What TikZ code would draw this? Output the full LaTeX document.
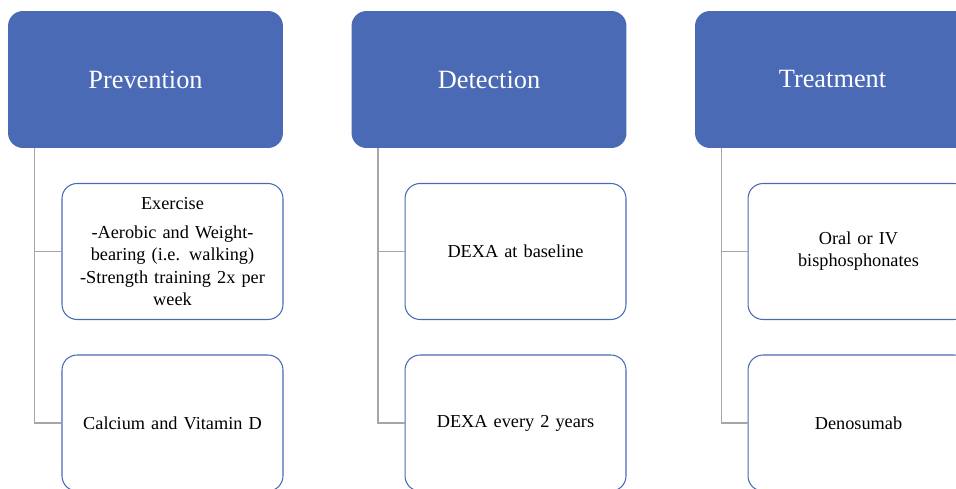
\documentclass[tikz,border=0pt]{standalone}
\usepackage{fontspec}
\setmainfont{Liberation Serif}
\definecolor{hdblue}{HTML}{4A6AB6}
\definecolor{lkgray}{HTML}{A6A6A6}

\begin{document}
\begin{tikzpicture}[x=0.02cm, y=-0.02cm,
    head/.style={rectangle, rounded corners=0.3cm, fill=hdblue, text=white,
      minimum width=5.5cm, minimum height=2.74cm, font=\fontsize{15}{18}\selectfont},
    item/.style={rectangle, rounded corners=0.3cm, draw=hdblue, line width=0.6pt, fill=white,
      minimum width=4.42cm, minimum height=2.72cm, align=center, text width=4.1cm,
      font=\fontsize{10.4}{12.6}\selectfont},
    link/.style={draw=lkgray, line width=0.8pt}
    ]
    \useasboundingbox (0,0) rectangle (956,489);

    % column heads
    \node[head] (prev) at (145.5,79.5) {Prevention};
    \node[head] (dete) at (489,79.5) {Detection};
    \node[head] (treat) at (832.5,79.5) {Treatment};

    % prevention
    \node[item] (exer) at (172.5,251.5) {Exercise\\[4pt]-Aerobic and Weight-\\bearing (i.e. walking)\\-Strength training 2x per\\week};
    \node[item] (calc) at (172.5,423) {Calcium and Vitamin D};

    % detection
    \node[item] (base) at (515.5,251.5) {DEXA at baseline};
    \node[item] (every) at (515.5,423) {DEXA every 2 years};

    % treatment
    \node[item] (bisp) at (858.5,251.5) {Oral or IV\\bisphosphonates};
    \node[item] (deno) at (858.5,423) {Denosumab};

    % connectors
    \draw[link] ([xshift=0.54cm]prev.south west) |- (exer.west);
    \draw[link] ([xshift=0.54cm]prev.south west) |- (calc.west);
    \draw[link] ([xshift=0.54cm]dete.south west) |- (base.west);
    \draw[link] ([xshift=0.54cm]dete.south west) |- (every.west);
    \draw[link] ([xshift=0.54cm]treat.south west) |- (bisp.west);
    \draw[link] ([xshift=0.54cm]treat.south west) |- (deno.west);
  \end{tikzpicture}
\end{document}
